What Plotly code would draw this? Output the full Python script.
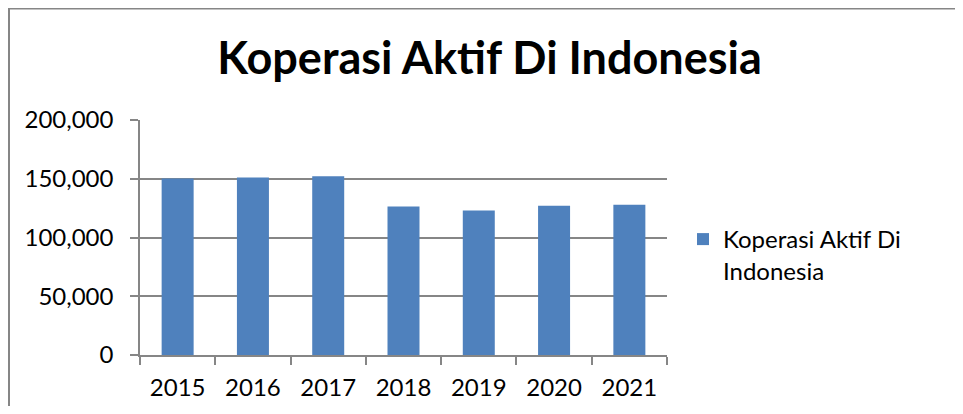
import plotly.graph_objects as go

years = ["2015", "2016", "2017", "2018", "2019", "2020", "2021"]
values = [150223, 151170, 152174, 126343, 123048, 127124, 127846]
series_name = "Koperasi Aktif Di<br>Indonesia"
title_text = "Koperasi Aktif Di Indonesia"
y_ticks = [0, 50000, 100000, 150000, 200000]
y_ticklabels = ["0", "50,000", "100,000", "150,000", "200,000"]

# page body has an 8px margin, so figure coords = screen coords - 8
OFF = 8
W, H = 963 - 2 * OFF, 414 - 2 * OFF
L, R, T, B = 140 - OFF, 667 - OFF, 120 - OFF, 355 - OFF
pw, ph = R - L, B - T

FONT = "Lato"
GRID = "#868686"

fig = go.Figure()
fig.add_trace(go.Bar(
    x=years, y=values, name=series_name,
    marker=dict(color="#4F81BD", line=dict(width=0)),
    showlegend=True,
))

def px2x(sx):
    return (sx - OFF - L) / pw

def px2y(sy):
    return (B - (sy - OFF)) / ph

frame_line = dict(color=GRID, width=2)

fig.update_layout(
    width=W, height=H,
    margin=dict(l=L, r=W - R, t=T, b=H - B, pad=0, autoexpand=False),
    paper_bgcolor="white", plot_bgcolor="white",
    font=dict(family=FONT, color="black", size=24),
    bargap=0.575,
    title=dict(text="<b>" + title_text + "</b>", x=(489.5 - OFF) / W, y=1 - (58 - OFF) / H,
               xanchor="center", yanchor="middle", xref="container", yref="container",
               font=dict(family=FONT, size=45, color="black")),
    xaxis=dict(
        showgrid=False, showline=True, linecolor=GRID, linewidth=1.5,
        ticks="outside", ticklen=8, tickcolor=GRID, tickwidth=1.5,
        tickson="boundaries", tickfont=dict(family=FONT, size=24),
        ticklabelstandoff=10, automargin=False,
        fixedrange=True,
    ),
    yaxis=dict(
        range=[0, 200000], tickvals=y_ticks, ticktext=y_ticklabels,
        showgrid=True, gridcolor=GRID, gridwidth=1.5,
        showline=True, linecolor=GRID, linewidth=1.5,
        ticks="outside", ticklen=8, tickcolor=GRID, tickwidth=1.5,
        tickfont=dict(family=FONT, size=24), zeroline=False,
        ticklabelstandoff=12, automargin=False,
        fixedrange=True,
    ),
    legend=dict(
        x=px2x(683), y=px2y(217), xanchor="left", yanchor="top",
        valign="top", font=dict(family=FONT, size=24),
        bgcolor="rgba(0,0,0,0)", borderwidth=0,
    ),
    shapes=[
        dict(type="line", xref="paper", yref="paper",
             x0=px2x(8), x1=px2x(1000), y0=px2y(8.5), y1=px2y(8.5),
             line=frame_line, layer="below"),
        dict(type="line", xref="paper", yref="paper",
             x0=px2x(9), x1=px2x(9), y0=px2y(7.5), y1=px2y(450),
             line=frame_line, layer="below"),
    ],
)

fig.write_html("out.html")
